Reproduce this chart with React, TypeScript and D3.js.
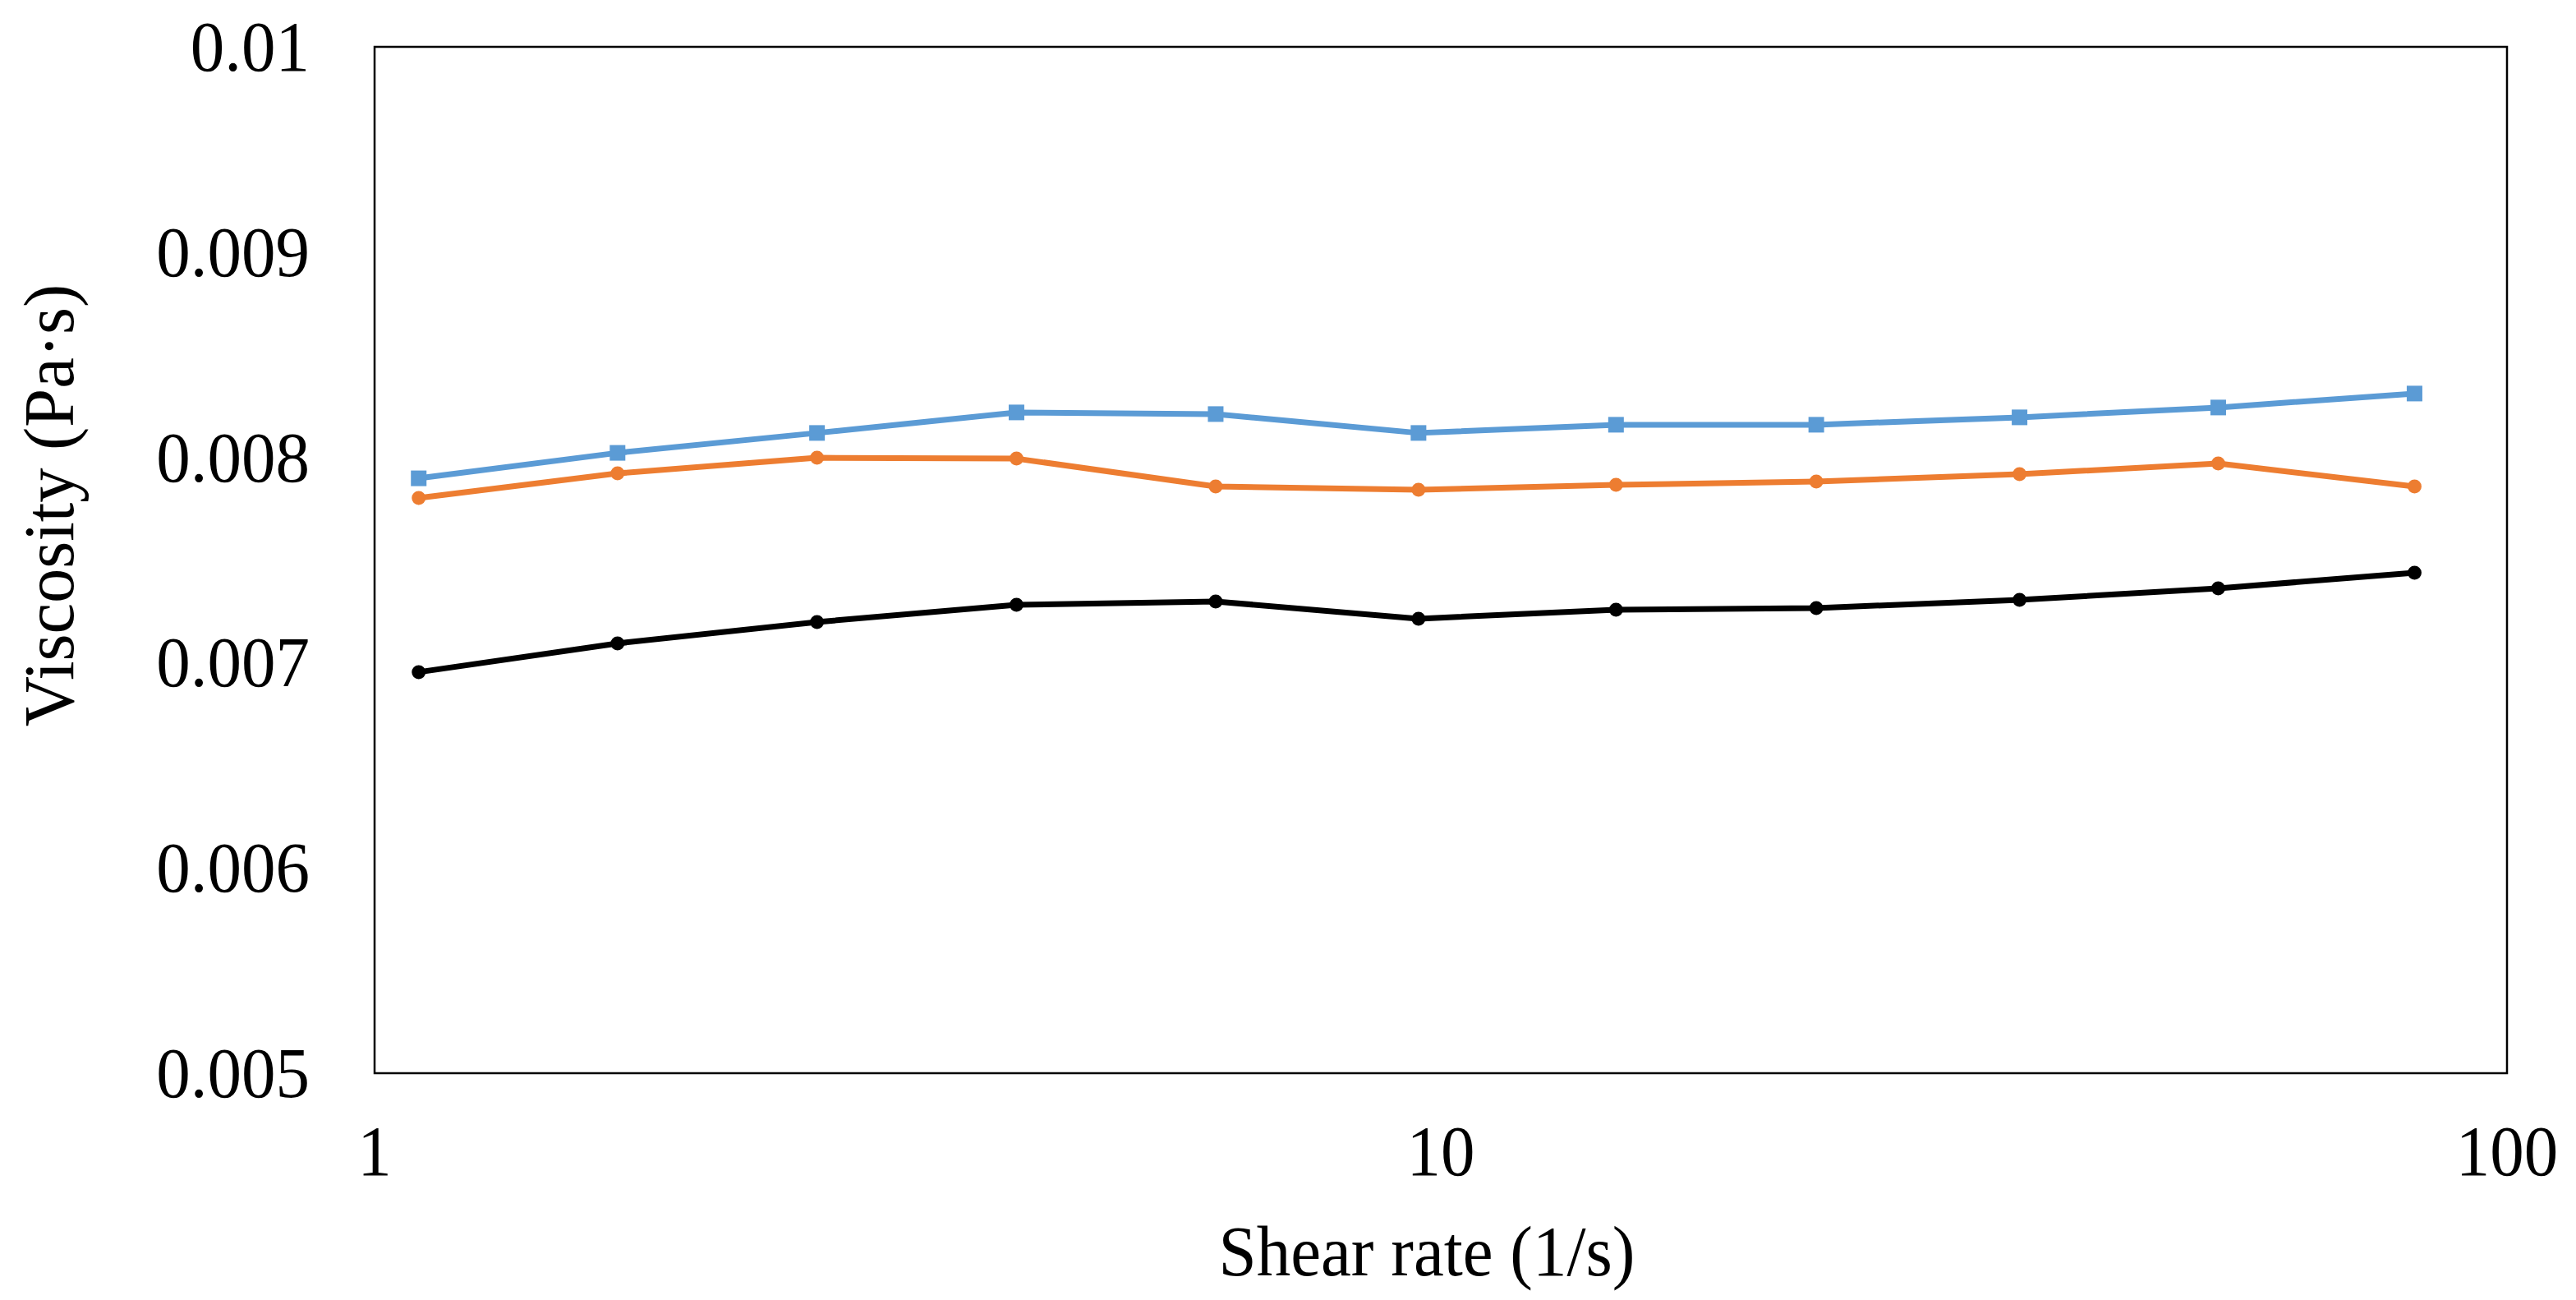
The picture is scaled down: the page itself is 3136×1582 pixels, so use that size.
import { useEffect } from "react";
import * as d3 from "d3";

const shearRate = [1.1, 1.69, 2.6, 4.0, 6.15, 9.53, 14.6, 22.5, 34.9, 53.6, 81.9];
const seriesBlue = [0.007898, 0.008022, 0.008119, 0.008219, 0.008211, 0.008119, 0.008159, 0.008159, 0.008195, 0.008243, 0.008311];
const seriesOrange = [0.007802, 0.007922, 0.007998, 0.007994, 0.007858, 0.007842, 0.007866, 0.007882, 0.007918, 0.00797, 0.007858];
const seriesBlack = [0.006954, 0.007094, 0.007198, 0.007282, 0.007298, 0.007214, 0.007258, 0.007266, 0.007306, 0.007362, 0.007438];

const xTicks = [1, 10, 100];
const yTicks = [0.005, 0.006, 0.007, 0.008, 0.009, 0.01];
const yTickLabels = ["0.005", "0.006", "0.007", "0.008", "0.009", "0.01"];

const W = 3136;
const H = 1582;
const M = { left: 456, right: 3052, top: 57, bottom: 1306 };
const FONT = "'Liberation Serif', 'Times New Roman', serif";
const FS = 86;
// reference text is a touch narrower than Liberation Serif
const SQUEEZE = 0.965;

function Label({ x, y, anchor, children }: { x: number; y: number; anchor: string; children: any }) {
  return (
    <text
      transform={`translate(${x},${y}) scale(${SQUEEZE},1)`}
      textAnchor={anchor}
      fontFamily={FONT}
      fontSize={FS}
      fill="#000"
    >
      {children}
    </text>
  );
}

export default function App() {
  useEffect(() => {
    document.body.style.margin = "0";
  }, []);

  const x = d3.scaleLog().domain([1, 100]).range([M.left, M.right]);
  const y = d3.scaleLinear().domain([0.005, 0.01]).range([M.bottom, M.top]);

  const line = d3
    .line<number>()
    .x((_, i) => x(shearRate[i]))
    .y((d) => y(d));

  const series = [
    { values: seriesBlue, color: "#5B9BD5", marker: "square" },
    { values: seriesOrange, color: "#ED7D31", marker: "circle" },
    { values: seriesBlack, color: "#000000", marker: "circle" },
  ];

  return (
    <svg width={W} height={H} style={{ display: "block", background: "#fff" }}>
      <rect x={0} y={0} width={W} height={H} fill="#fff" />

      {/* plot frame */}
      <rect
        x={M.left}
        y={M.top}
        width={M.right - M.left}
        height={M.bottom - M.top}
        fill="none"
        stroke="#000"
        strokeWidth={2.5}
      />

      {/* y tick labels */}
      {yTicks.map((t, i) => (
        <Label key={t} x={377} y={y(t) + 29} anchor="end">
          {yTickLabels[i]}
        </Label>
      ))}

      {/* x tick labels */}
      {xTicks.map((t) => (
        <Label key={t} x={x(t)} y={1430} anchor="middle">
          {t}
        </Label>
      ))}

      {/* axis titles */}
      <Label x={1737} y={1552} anchor="middle">
        Shear rate (1/s)
      </Label>
      <text
        transform="translate(89,615) rotate(-90) scale(0.985,1)"
        textAnchor="middle"
        fontFamily={FONT}
        fontSize={FS}
        fill="#000"
      >
        Viscosity (Pa·s)
      </text>

      {/* series */}
      {series.map((s, si) => (
        <g key={si}>
          <path d={line(s.values) || ""} fill="none" stroke={s.color} strokeWidth={7} strokeLinejoin="round" />
          {s.values.map((v, i) =>
            s.marker === "square" ? (
              <rect
                key={i}
                x={x(shearRate[i]) - 9.5}
                y={y(v) - 9.5}
                width={19}
                height={19}
                fill={s.color}
              />
            ) : (
              <circle key={i} cx={x(shearRate[i])} cy={y(v)} r={8.5} fill={s.color} />
            )
          )}
        </g>
      ))}
    </svg>
  );
}
